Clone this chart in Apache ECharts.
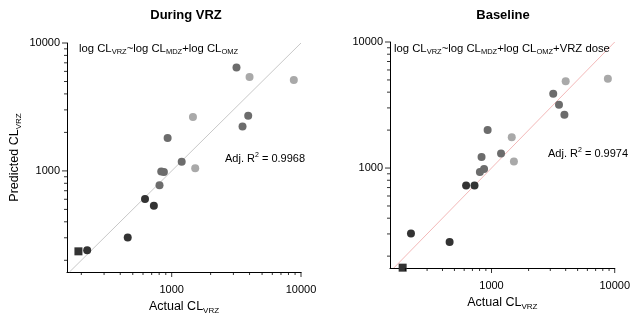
<!DOCTYPE html>
<html>
<head>
<meta charset="utf-8">
<script src="https://cdn.jsdelivr.net/npm/echarts@6/dist/echarts.min.js"></script>
<style>html,body{margin:0;padding:0;background:#fff}#c{width:633px;height:320px}</style>
</head>
<body>
<div id="c"></div>
<script>
// ---- data ----
const actualCL      = [190, 222, 457, 622, 728, 805, 830, 870, 930, 1195, 1460, 1520, 3170, 3530, 3906, 4000, 8800];
const predDuring    = [235, 240, 301, 603, 535, 774, 988, 982, 1812, 1181, 2637, 1049, 6442, 2220, 2702, 5420, 5138];
const predBaseline  = [162, 303, 259, 726, 726, 930, 1221, 982, 2008, 1305, 1757, 1129, 3884, 3184, 2652, 4890, 5100];
const pointGroup    = ['sq','d','d','d','d','m','m','m','m','m','l','l','m','m','m','l','l'];
const groupNames    = ['sq','d','m','l'];
const majorTicks    = [1000, 10000];
const minorTicks    = [200,300,400,500,600,700,800,900,2000,3000,4000,5000,6000,7000,8000,9000];
const xMins         = [155, 150];
const yMins         = [162, 161];
const axisMax       = 10000;
const panelTitles   = ['During VRZ', 'Baseline'];
const r2Values      = ['0.9968', '0.9974'];

const FONT = '"Liberation Sans",Arial,sans-serif';
const groupColor = {sq:'#333333', d:'#333333', m:'#6c6c6c', l:'#a9a9a9'};
const groupSymbol = {sq:'rect', d:'circle', m:'circle', l:'circle'};
const groupSize = {sq:8, d:8, m:8, l:8};

const grids = [
  {left: 67, top: 43, width: 234, height: 232},
  {left: 390, top: 42, width: 228, height: 226}
];
const diagColor = ['#c8c8c8', '#f3b8b8'];

function labelFmt(v) {
  const r = Math.round(v);
  return (majorTicks.indexOf(r) >= 0 && Math.abs(v - r) < 1e-6) ? String(r) : '';
}

const nameRich = {
  a:{fontSize:12.5, fontFamily:FONT, color:'#000', lineHeight:16},
  s:{fontSize:8, fontFamily:FONT, color:'#000', verticalAlign:'bottom', lineHeight:10, padding:[6,0,0,0]}
};

// tick marks placed through the axes' own log scales
function tickSeries(i, values, len, onX) {
  return {
    type:'scatter', xAxisIndex:i, yAxisIndex:i, clip:false, silent:true, z:5,
    symbol:'rect',
    symbolSize: onX ? [1, len] : [len, 1],
    symbolOffset: onX ? [0, len / 2] : [-len / 2, 0],
    itemStyle:{color:'#000'},
    data: values.map(v => onX ? [v, yMins[i]] : [xMins[i], v])
  };
}

const xAxes = [], yAxes = [], series = [];
grids.forEach((g, i) => {
  const common = {type:'log', logBase:10, max: axisMax, gridIndex:i, splitLine:{show:false}, axisTick:{show:false}};
  xAxes.push(Object.assign({}, common, {
    min: xMins[i], position:'bottom',
    axisLine:{lineStyle:{color:'#000', width:1}},
    axisLabel:{formatter: labelFmt, margin: 12, fontSize: 11, color:'#000', fontFamily: FONT, showMinLabel:false},
    name: '{a|Actual CL}{s|VRZ}', nameLocation:'middle', nameGap: 27,
    nameTextStyle:{rich: nameRich}
  }));
  yAxes.push(Object.assign({}, common, {
    min: yMins[i], position:'left',
    axisLine:{lineStyle:{color:'#000', width:1}},
    axisLabel:{formatter: labelFmt, margin: 7, fontSize: 11, color:'#000', fontFamily: FONT, showMinLabel:false},
    name: i === 0 ? '{a|Predicted CL}{s|VRZ}' : '', nameLocation:'middle', nameGap: 44, nameRotate: 90,
    nameTextStyle:{rich: nameRich}
  }));
  series.push(tickSeries(i, majorTicks, 5, true));
  series.push(tickSeries(i, minorTicks, 3, true));
  series.push(tickSeries(i, majorTicks, 5, false));
  series.push(tickSeries(i, minorTicks, 3, false));
  // identity line
  const lo = Math.max(xMins[i], yMins[i]);
  series.push({
    type:'line', xAxisIndex: i, yAxisIndex: i, symbol:'none', silent:true,
    lineStyle:{color: diagColor[i], width:1}, z:1,
    data: [[lo, lo], [axisMax, axisMax]]
  });
  const pred = i === 0 ? predDuring : predBaseline;
  groupNames.forEach(gn => {
    series.push({
      type:'scatter', xAxisIndex: i, yAxisIndex: i, z:3, clip:false,
      symbol: groupSymbol[gn], symbolSize: groupSize[gn],
      itemStyle:{color: groupColor[gn], opacity:1},
      data: actualCL.map((x, k) => pointGroup[k] === gn ? [x, pred[k]] : null).filter(d => d)
    });
  });
});

const richFormula = {
  a:{fontSize:11.3, fontFamily:FONT, fontWeight:'normal', color:'#000', lineHeight:14},
  s:{fontSize:7.5, fontFamily:FONT, fontWeight:'normal', color:'#000', verticalAlign:'bottom', lineHeight:10, padding:[5,0,0,0]}
};
const richR2 = {
  a:{fontSize:11, fontFamily:FONT, fontWeight:'normal', color:'#000', lineHeight:14},
  p:{fontSize:7, fontFamily:FONT, fontWeight:'normal', color:'#000', verticalAlign:'top', lineHeight:8}
};

const option = {
  animation:false,
  backgroundColor:'#fff',
  title: [
    {text: panelTitles[0], left: 186, top: 9, padding:0, textAlign:'center', textStyle:{fontSize:13, fontWeight:'bold', fontFamily:FONT, color:'#000'}},
    {text: panelTitles[1], left: 503, top: 9, padding:0, textAlign:'center', textStyle:{fontSize:13, fontWeight:'bold', fontFamily:FONT, color:'#000'}},
    {text: '{a|log CL}{s|VRZ}{a|~log CL}{s|MDZ}{a|+log CL}{s|OMZ}', left: 79, top: 42, padding:0, textStyle:{fontWeight:'normal', rich: richFormula}},
    {text: '{a|log CL}{s|VRZ}{a|~log CL}{s|MDZ}{a|+log CL}{s|OMZ}{a|+VRZ dose}', left: 394, top: 42, padding:0, textStyle:{fontWeight:'normal', rich: richFormula}},
    {text: '{a|Adj. R}{p|2}{a| = ' + r2Values[0] + '}', left: 225, top: 152, padding:0, textStyle:{fontWeight:'normal', rich: richR2}},
    {text: '{a|Adj. R}{p|2}{a| = ' + r2Values[1] + '}', left: 548, top: 147, padding:0, textStyle:{fontWeight:'normal', rich: richR2}}
  ],
  grid: grids,
  xAxis: xAxes,
  yAxis: yAxes,
  series: series
};
const chart = echarts.init(document.getElementById('c'), null, {renderer:'canvas'});
chart.setOption(option);
</script>
</body>
</html>
